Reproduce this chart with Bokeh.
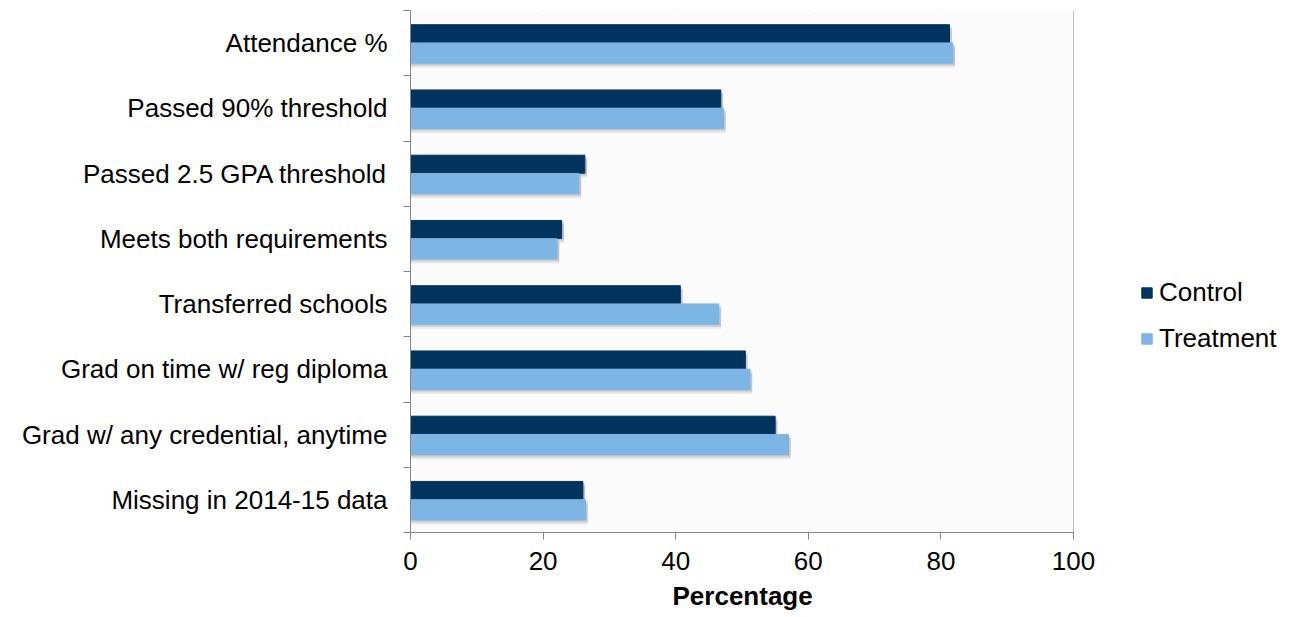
from bokeh.plotting import figure
from bokeh.models import Range1d, FixedTicker, Legend, LegendItem, BoxAnnotation, Title
from bokeh.embed import file_html
from bokeh.resources import INLINE

categories = [
    "Attendance %",
    "Passed 90% threshold",
    "Passed 2.5 GPA threshold",
    "Meets both requirements",
    "Transferred schools",
    "Grad on time w/ reg diploma",
    "Grad w/ any credential, anytime",
    "Missing in 2014-15 data",
]
control = [81.3, 46.8, 26.3, 22.8, 40.7, 50.5, 55.0, 26.0]
treatment = [81.8, 47.2, 25.4, 22.1, 46.5, 51.2, 57.0, 26.4]
series_names = ["Control", "Treatment"]
x_ticks = [0, 20, 40, 60, 80, 100]
x_title = "Percentage"

FONT = "Liberation Sans"
FS = "26px"
GRAY = "#868686"
C_CTRL = "#00345f"
C_TREAT = "#7db5e5"

X_MAX = x_ticks[-1]
FRAME_LEFT = 410
FRAME_RIGHT_AXIS = 1073      # where the value axis ends (pixel)
FIG_W, FIG_H = 1289, 617
# extend the frame to the figure's right edge so that the legend fits inside it
frame_w_axis = FRAME_RIGHT_AXIS - FRAME_LEFT
x_end = X_MAX * (FIG_W - FRAME_LEFT) / frame_w_axis

n = len(categories)
centers = [n - i - 0.5 for i in range(n)]
y_ctrl = [c + 0.145 for c in centers]
y_treat = [c - 0.152 for c in centers]

p = figure(width=FIG_W, height=FIG_H, output_backend="svg", toolbar_location=None,
           x_range=Range1d(0, x_end), y_range=Range1d(0, n),
           min_border_left=FRAME_LEFT, min_border_right=0, min_border_top=10,
           min_border_bottom=85)
p.background_fill_color = "white"
p.border_fill_color = "white"
p.outline_line_color = None
p.add_layout(BoxAnnotation(left=0, right=X_MAX, fill_color="#fbfbfb", fill_alpha=1,
                           line_color=None, level="underlay"))

# soft drop shadows
for dy, a in [(-0.07, 0.07), (-0.045, 0.08), (-0.025, 0.08)]:
    p.hbar(y=[y + dy for y in y_treat], left=0, right=[v + 0.35 for v in treatment],
           height=0.31, fill_color="black", fill_alpha=a, line_color=None)
    p.hbar(y=[y + dy for y in y_ctrl], left=0, right=[v + 0.35 for v in control],
           height=0.275, fill_color="black", fill_alpha=a, line_color=None)

r1 = p.hbar(y=y_ctrl, left=0, right=control, height=0.275,
            fill_color=C_CTRL, line_color=C_CTRL)
r2 = p.hbar(y=y_treat, left=0, right=treatment, height=0.31,
            fill_color=C_TREAT, line_color=C_TREAT)

# x axis
p.xaxis.bounds = (0, X_MAX)
p.xaxis.ticker = FixedTicker(ticks=x_ticks)
p.xaxis.axis_line_color = GRAY
p.xaxis.major_tick_line_color = GRAY
p.xaxis.major_tick_out = 7
p.xaxis.major_tick_in = 0
p.xaxis.minor_tick_line_color = None
p.xaxis.major_label_text_font = FONT
p.xaxis.major_label_text_font_size = FS
p.xaxis.major_label_text_color = "black"
p.xaxis.major_label_standoff = 12

# axis title centred under the 0..100 span (frame extends further right)
xt = Title(text=x_title, align="left", offset=262, standoff=13,
           text_font=FONT, text_font_size=FS, text_font_style="bold",
           text_color="black")
p.add_layout(xt, "below")

# y axis
p.yaxis.ticker = FixedTicker(ticks=centers, minor_ticks=list(range(n + 1)))
p.yaxis.major_label_overrides = {c: cat for c, cat in zip(centers, categories)}
p.yaxis.axis_line_color = GRAY
p.yaxis.major_tick_line_color = None
p.yaxis.major_tick_out = 0
p.yaxis.major_tick_in = 0
p.yaxis.minor_tick_line_color = GRAY
p.yaxis.minor_tick_out = 7
p.yaxis.minor_tick_in = 0
p.yaxis.major_label_text_font = FONT
p.yaxis.major_label_text_font_size = FS
p.yaxis.major_label_text_color = "black"
p.yaxis.major_label_standoff = 16

p.xgrid.ticker = FixedTicker(ticks=x_ticks)
p.xgrid.grid_line_color = GRAY
p.xgrid.grid_line_width = 1
p.ygrid.grid_line_color = None

legend = Legend(items=[LegendItem(label=series_names[0], renderers=[r1]),
                       LegendItem(label=series_names[1], renderers=[r2])],
                location=(730, 178), orientation="vertical")
legend.border_line_color = None
legend.background_fill_alpha = 0
legend.padding = 0
legend.margin = 0
legend.spacing = 15
legend.glyph_width = 13
legend.glyph_height = 13
legend.label_height = 30
legend.label_standoff = 6
legend.label_text_font = FONT
legend.label_text_font_size = FS
legend.label_text_color = "black"
p.add_layout(legend, "center")

open("out.html", "w").write(file_html(p, INLINE))
